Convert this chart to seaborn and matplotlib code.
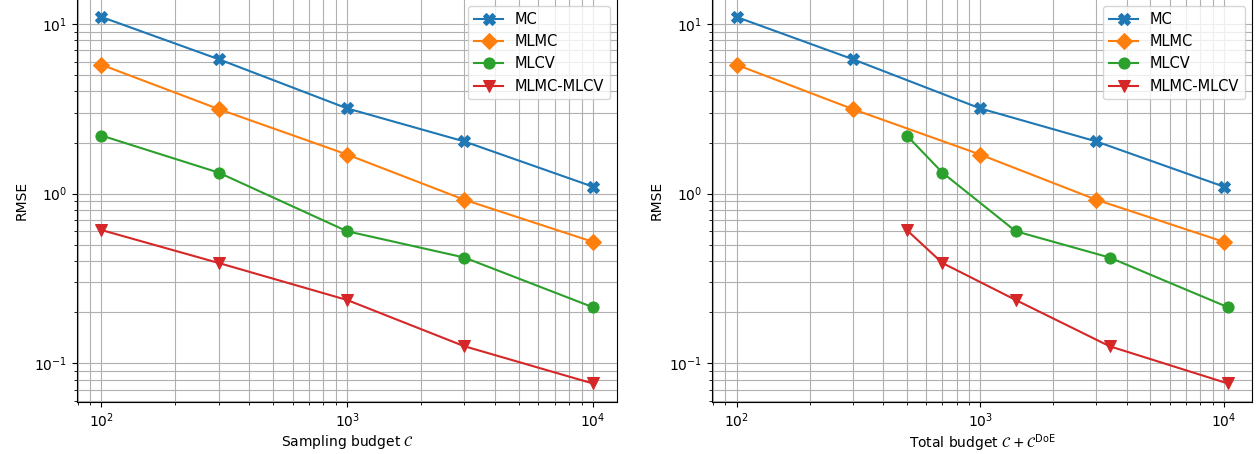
import numpy as np
import pandas as pd
import matplotlib
matplotlib.use("Agg")
import matplotlib.pyplot as plt
import seaborn as sns

methods = ["MC", "MLMC", "MLCV", "MLMC-MLCV"]
budget = [100, 300, 1000, 3000, 10000]
doe_cost = [0, 0, 400, 400]  # extra design-of-experiments cost per method

rmse_mc = [11.0, 6.2, 3.18, 2.03, 1.1]
rmse_mlmc = [5.75, 3.15, 1.70, 0.92, 0.52]
rmse_mlcv = [2.2, 1.33, 0.60, 0.42, 0.214]
rmse_mlmc_mlcv = [0.61, 0.39, 0.236, 0.126, 0.076]

markers = {"MC": "X", "MLMC": "D", "MLCV": "o", "MLMC-MLCV": "v"}
palette = {"MC": "#1f77b4", "MLMC": "#ff7f0e", "MLCV": "#2ca02c", "MLMC-MLCV": "#d62728"}

rows = []
for m, vals, doe in zip(methods, [rmse_mc, rmse_mlmc, rmse_mlcv, rmse_mlmc_mlcv], doe_cost):
    for b, v in zip(budget, vals):
        rows.append({"method": m, "sampling": b, "total": b + doe, "rmse": v})
df = pd.DataFrame(rows)

fig, axes = plt.subplots(1, 2, figsize=(12.6, 4.54), dpi=100)
plt.subplots_adjust(left=0.061, right=0.994, bottom=0.115, top=1.003, wspace=0.175)

for ax, xcol, xlabel in zip(axes, ["sampling", "total"],
                            [r"Sampling budget $\mathcal{C}$",
                             r"Total budget $\mathcal{C} + \mathcal{C}^{\mathrm{DoE}}$"]):
    sns.lineplot(data=df, x=xcol, y="rmse", hue="method", style="method",
                 markers=markers, dashes=False, palette=palette, hue_order=methods,
                 style_order=methods, markersize=8, linewidth=1.5, ax=ax)
    for line in ax.lines:
        line.set_markeredgecolor(line.get_color())
    ax.set_xscale("log")
    ax.set_yscale("log")
    ax.grid(True, which="both", color="#b0b0b0", linewidth=0.8)
    ax.set_axisbelow(True)
    ax.set_xlabel(xlabel, labelpad=2)
    ax.set_ylabel("RMSE")
    handles, labels = ax.get_legend_handles_labels()
    for h in handles:
        h.set_markeredgecolor(h.get_color())
        h.set_markersize(8)
    leg = ax.legend(handles, labels, loc="upper right", title=None, fontsize=10.5)

fig.savefig("out.png", dpi=100)
